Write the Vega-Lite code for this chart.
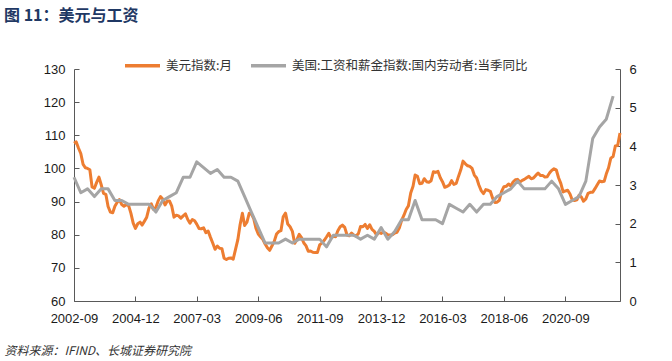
{
  "$schema": "https://vega.github.io/schema/vega-lite/v6.json",
  "width": 546,
  "height": 232,
  "autosize": {"type": "none"},
  "padding": {"left": 74, "top": 69, "right": 52, "bottom": 60},
  "background": "white",
  "config": {"view": {"stroke": null}, "font": "Liberation Sans"},
  "title": {
    "text": "图 11：美元与工资",
    "anchor": "start",
    "frame": "group",
    "dx": -70,
    "offset": 22,
    "font": "Noto Sans CJK SC",
    "fontSize": 16,
    "fontWeight": "bold",
    "color": "#1F3864"
  },
  "datasets": {
    "dxy": [
      {"date": "2002-09-01", "value": 107.6}, {"date": "2002-10-01", "value": 108.0}, {"date": "2002-11-01", "value": 106.1}, {"date": "2002-12-01", "value": 104.5},
      {"date": "2003-01-01", "value": 101.2}, {"date": "2003-02-01", "value": 100.2}, {"date": "2003-03-01", "value": 100.0}, {"date": "2003-04-01", "value": 99.6}, {"date": "2003-05-01", "value": 94.4}, {"date": "2003-06-01", "value": 94.0}, {"date": "2003-07-01", "value": 95.8}, {"date": "2003-08-01", "value": 97.4}, {"date": "2003-09-01", "value": 95.0}, {"date": "2003-10-01", "value": 92.5}, {"date": "2003-11-01", "value": 92.2}, {"date": "2003-12-01", "value": 88.5},
      {"date": "2004-01-01", "value": 86.8}, {"date": "2004-02-01", "value": 86.6}, {"date": "2004-03-01", "value": 88.6}, {"date": "2004-04-01", "value": 89.8}, {"date": "2004-05-01", "value": 90.6}, {"date": "2004-06-01", "value": 89.1}, {"date": "2004-07-01", "value": 88.6}, {"date": "2004-08-01", "value": 89.1}, {"date": "2004-09-01", "value": 88.8}, {"date": "2004-10-01", "value": 86.5}, {"date": "2004-11-01", "value": 83.5}, {"date": "2004-12-01", "value": 81.9},
      {"date": "2005-01-01", "value": 83.3}, {"date": "2005-02-01", "value": 83.8}, {"date": "2005-03-01", "value": 82.9}, {"date": "2005-04-01", "value": 84.1}, {"date": "2005-05-01", "value": 85.3}, {"date": "2005-06-01", "value": 88.1}, {"date": "2005-07-01", "value": 89.3}, {"date": "2005-08-01", "value": 87.6}, {"date": "2005-09-01", "value": 88.3}, {"date": "2005-10-01", "value": 90.2}, {"date": "2005-11-01", "value": 91.5}, {"date": "2005-12-01", "value": 90.8},
      {"date": "2006-01-01", "value": 89.0}, {"date": "2006-02-01", "value": 90.2}, {"date": "2006-03-01", "value": 90.2}, {"date": "2006-04-01", "value": 88.6}, {"date": "2006-05-01", "value": 85.3}, {"date": "2006-06-01", "value": 85.9}, {"date": "2006-07-01", "value": 85.7}, {"date": "2006-08-01", "value": 85.0}, {"date": "2006-09-01", "value": 85.7}, {"date": "2006-10-01", "value": 86.3}, {"date": "2006-11-01", "value": 84.6}, {"date": "2006-12-01", "value": 83.5},
      {"date": "2007-01-01", "value": 84.6}, {"date": "2007-02-01", "value": 84.2}, {"date": "2007-03-01", "value": 83.2}, {"date": "2007-04-01", "value": 81.9}, {"date": "2007-05-01", "value": 81.8}, {"date": "2007-06-01", "value": 82.1}, {"date": "2007-07-01", "value": 80.6}, {"date": "2007-08-01", "value": 81.1}, {"date": "2007-09-01", "value": 79.2}, {"date": "2007-10-01", "value": 77.5}, {"date": "2007-11-01", "value": 75.6}, {"date": "2007-12-01", "value": 76.6},
      {"date": "2008-01-01", "value": 75.9}, {"date": "2008-02-01", "value": 75.8}, {"date": "2008-03-01", "value": 72.9}, {"date": "2008-04-01", "value": 72.5}, {"date": "2008-05-01", "value": 72.9}, {"date": "2008-06-01", "value": 73.0}, {"date": "2008-07-01", "value": 72.6}, {"date": "2008-08-01", "value": 75.6}, {"date": "2008-09-01", "value": 78.5}, {"date": "2008-10-01", "value": 83.0}, {"date": "2008-11-01", "value": 86.5}, {"date": "2008-12-01", "value": 82.8},
      {"date": "2009-01-01", "value": 83.8}, {"date": "2009-02-01", "value": 86.5}, {"date": "2009-03-01", "value": 86.3}, {"date": "2009-04-01", "value": 84.9}, {"date": "2009-05-01", "value": 82.0}, {"date": "2009-06-01", "value": 80.2}, {"date": "2009-07-01", "value": 79.4}, {"date": "2009-08-01", "value": 78.6}, {"date": "2009-09-01", "value": 77.2}, {"date": "2009-10-01", "value": 76.1}, {"date": "2009-11-01", "value": 75.3}, {"date": "2009-12-01", "value": 76.6},
      {"date": "2010-01-01", "value": 78.0}, {"date": "2010-02-01", "value": 80.2}, {"date": "2010-03-01", "value": 80.9}, {"date": "2010-04-01", "value": 81.2}, {"date": "2010-05-01", "value": 85.4}, {"date": "2010-06-01", "value": 86.5}, {"date": "2010-07-01", "value": 83.2}, {"date": "2010-08-01", "value": 82.4}, {"date": "2010-09-01", "value": 81.0}, {"date": "2010-10-01", "value": 77.4}, {"date": "2010-11-01", "value": 78.5}, {"date": "2010-12-01", "value": 80.1},
      {"date": "2011-01-01", "value": 79.1}, {"date": "2011-02-01", "value": 77.5}, {"date": "2011-03-01", "value": 76.7}, {"date": "2011-04-01", "value": 75.0}, {"date": "2011-05-01", "value": 75.1}, {"date": "2011-06-01", "value": 74.7}, {"date": "2011-07-01", "value": 74.6}, {"date": "2011-08-01", "value": 74.6}, {"date": "2011-09-01", "value": 76.9}, {"date": "2011-10-01", "value": 77.5}, {"date": "2011-11-01", "value": 78.3}, {"date": "2011-12-01", "value": 79.3},
      {"date": "2012-01-01", "value": 80.4}, {"date": "2012-02-01", "value": 79.0}, {"date": "2012-03-01", "value": 79.5}, {"date": "2012-04-01", "value": 79.4}, {"date": "2012-05-01", "value": 81.2}, {"date": "2012-06-01", "value": 82.4}, {"date": "2012-07-01", "value": 82.9}, {"date": "2012-08-01", "value": 82.2}, {"date": "2012-09-01", "value": 79.9}, {"date": "2012-10-01", "value": 79.7}, {"date": "2012-11-01", "value": 80.5}, {"date": "2012-12-01", "value": 79.9},
      {"date": "2013-01-01", "value": 79.6}, {"date": "2013-02-01", "value": 80.4}, {"date": "2013-03-01", "value": 82.5}, {"date": "2013-04-01", "value": 82.4}, {"date": "2013-05-01", "value": 83.1}, {"date": "2013-06-01", "value": 81.9}, {"date": "2013-07-01", "value": 83.0}, {"date": "2013-08-01", "value": 81.6}, {"date": "2013-09-01", "value": 81.0}, {"date": "2013-10-01", "value": 79.9}, {"date": "2013-11-01", "value": 80.7}, {"date": "2013-12-01", "value": 80.4},
      {"date": "2014-01-01", "value": 80.8}, {"date": "2014-02-01", "value": 80.4}, {"date": "2014-03-01", "value": 80.0}, {"date": "2014-04-01", "value": 79.9}, {"date": "2014-05-01", "value": 80.0}, {"date": "2014-06-01", "value": 80.5}, {"date": "2014-07-01", "value": 80.7}, {"date": "2014-08-01", "value": 82.0}, {"date": "2014-09-01", "value": 84.3}, {"date": "2014-10-01", "value": 85.8}, {"date": "2014-11-01", "value": 87.6}, {"date": "2014-12-01", "value": 88.7},
      {"date": "2015-01-01", "value": 92.6}, {"date": "2015-02-01", "value": 94.6}, {"date": "2015-03-01", "value": 98.0}, {"date": "2015-04-01", "value": 97.6}, {"date": "2015-05-01", "value": 95.4}, {"date": "2015-06-01", "value": 95.5}, {"date": "2015-07-01", "value": 96.9}, {"date": "2015-08-01", "value": 96.0}, {"date": "2015-09-01", "value": 95.8}, {"date": "2015-10-01", "value": 96.3}, {"date": "2015-11-01", "value": 99.0}, {"date": "2015-12-01", "value": 98.8},
      {"date": "2016-01-01", "value": 99.1}, {"date": "2016-02-01", "value": 97.2}, {"date": "2016-03-01", "value": 96.0}, {"date": "2016-04-01", "value": 94.3}, {"date": "2016-05-01", "value": 94.6}, {"date": "2016-06-01", "value": 95.0}, {"date": "2016-07-01", "value": 96.3}, {"date": "2016-08-01", "value": 95.2}, {"date": "2016-09-01", "value": 95.5}, {"date": "2016-10-01", "value": 97.6}, {"date": "2016-11-01", "value": 99.6}, {"date": "2016-12-01", "value": 102.2},
      {"date": "2017-01-01", "value": 101.4}, {"date": "2017-02-01", "value": 100.8}, {"date": "2017-03-01", "value": 100.6}, {"date": "2017-04-01", "value": 100.0}, {"date": "2017-05-01", "value": 98.0}, {"date": "2017-06-01", "value": 97.1}, {"date": "2017-07-01", "value": 95.0}, {"date": "2017-08-01", "value": 93.3}, {"date": "2017-09-01", "value": 92.4}, {"date": "2017-10-01", "value": 93.6}, {"date": "2017-11-01", "value": 93.4}, {"date": "2017-12-01", "value": 93.1},
      {"date": "2018-01-01", "value": 91.0}, {"date": "2018-02-01", "value": 89.7}, {"date": "2018-03-01", "value": 89.8}, {"date": "2018-04-01", "value": 90.4}, {"date": "2018-05-01", "value": 93.1}, {"date": "2018-06-01", "value": 94.5}, {"date": "2018-07-01", "value": 94.6}, {"date": "2018-08-01", "value": 95.3}, {"date": "2018-09-01", "value": 94.7}, {"date": "2018-10-01", "value": 95.9}, {"date": "2018-11-01", "value": 96.6}, {"date": "2018-12-01", "value": 96.7},
      {"date": "2019-01-01", "value": 95.9}, {"date": "2019-02-01", "value": 96.4}, {"date": "2019-03-01", "value": 96.7}, {"date": "2019-04-01", "value": 97.2}, {"date": "2019-05-01", "value": 97.6}, {"date": "2019-06-01", "value": 96.9}, {"date": "2019-07-01", "value": 97.1}, {"date": "2019-08-01", "value": 97.9}, {"date": "2019-09-01", "value": 98.6}, {"date": "2019-10-01", "value": 97.9}, {"date": "2019-11-01", "value": 97.9}, {"date": "2019-12-01", "value": 97.4},
      {"date": "2020-01-01", "value": 97.5}, {"date": "2020-02-01", "value": 98.6}, {"date": "2020-03-01", "value": 99.4}, {"date": "2020-04-01", "value": 99.9}, {"date": "2020-05-01", "value": 99.6}, {"date": "2020-06-01", "value": 97.2}, {"date": "2020-07-01", "value": 95.5}, {"date": "2020-08-01", "value": 92.9}, {"date": "2020-09-01", "value": 93.2}, {"date": "2020-10-01", "value": 93.4}, {"date": "2020-11-01", "value": 92.3}, {"date": "2020-12-01", "value": 90.5},
      {"date": "2021-01-01", "value": 90.3}, {"date": "2021-02-01", "value": 90.5}, {"date": "2021-03-01", "value": 91.9}, {"date": "2021-04-01", "value": 91.4}, {"date": "2021-05-01", "value": 90.1}, {"date": "2021-06-01", "value": 90.8}, {"date": "2021-07-01", "value": 92.5}, {"date": "2021-08-01", "value": 92.8}, {"date": "2021-09-01", "value": 92.8}, {"date": "2021-10-01", "value": 93.9}, {"date": "2021-11-01", "value": 95.1}, {"date": "2021-12-01", "value": 96.2},
      {"date": "2022-01-01", "value": 96.0}, {"date": "2022-02-01", "value": 96.1}, {"date": "2022-03-01", "value": 98.3}, {"date": "2022-04-01", "value": 100.2}, {"date": "2022-05-01", "value": 103.1}, {"date": "2022-06-01", "value": 103.6}, {"date": "2022-07-01", "value": 106.8}, {"date": "2022-08-01", "value": 106.9}, {"date": "2022-09-01", "value": 110.7}
    ],
    "eci": [
      {"date": "2002-09-01", "value": 3.2}, {"date": "2002-12-01", "value": 2.8},
      {"date": "2003-03-01", "value": 2.9}, {"date": "2003-06-01", "value": 2.7}, {"date": "2003-09-01", "value": 2.9}, {"date": "2003-12-01", "value": 2.9},
      {"date": "2004-03-01", "value": 2.6}, {"date": "2004-06-01", "value": 2.6}, {"date": "2004-09-01", "value": 2.5}, {"date": "2004-12-01", "value": 2.5},
      {"date": "2005-03-01", "value": 2.5}, {"date": "2005-06-01", "value": 2.5}, {"date": "2005-09-01", "value": 2.3}, {"date": "2005-12-01", "value": 2.6},
      {"date": "2006-03-01", "value": 2.7}, {"date": "2006-06-01", "value": 2.8}, {"date": "2006-09-01", "value": 3.2}, {"date": "2006-12-01", "value": 3.2},
      {"date": "2007-03-01", "value": 3.6}, {"date": "2007-06-01", "value": 3.45}, {"date": "2007-09-01", "value": 3.3}, {"date": "2007-12-01", "value": 3.4},
      {"date": "2008-03-01", "value": 3.2}, {"date": "2008-06-01", "value": 3.2}, {"date": "2008-09-01", "value": 3.1}, {"date": "2008-12-01", "value": 2.7},
      {"date": "2009-03-01", "value": 2.3}, {"date": "2009-06-01", "value": 1.9}, {"date": "2009-09-01", "value": 1.5}, {"date": "2009-12-01", "value": 1.5},
      {"date": "2010-03-01", "value": 1.5}, {"date": "2010-06-01", "value": 1.6}, {"date": "2010-09-01", "value": 1.5}, {"date": "2010-12-01", "value": 1.6},
      {"date": "2011-03-01", "value": 1.6}, {"date": "2011-06-01", "value": 1.6}, {"date": "2011-09-01", "value": 1.6}, {"date": "2011-12-01", "value": 1.4},
      {"date": "2012-03-01", "value": 1.7}, {"date": "2012-06-01", "value": 1.7}, {"date": "2012-09-01", "value": 1.7}, {"date": "2012-12-01", "value": 1.7},
      {"date": "2013-03-01", "value": 1.6}, {"date": "2013-06-01", "value": 1.7}, {"date": "2013-09-01", "value": 1.6}, {"date": "2013-12-01", "value": 1.9},
      {"date": "2014-03-01", "value": 1.6}, {"date": "2014-06-01", "value": 1.8}, {"date": "2014-09-01", "value": 2.1}, {"date": "2014-12-01", "value": 2.1},
      {"date": "2015-03-01", "value": 2.6}, {"date": "2015-06-01", "value": 2.1}, {"date": "2015-09-01", "value": 2.1}, {"date": "2015-12-01", "value": 2.1},
      {"date": "2016-03-01", "value": 2.0}, {"date": "2016-06-01", "value": 2.5}, {"date": "2016-09-01", "value": 2.4}, {"date": "2016-12-01", "value": 2.3},
      {"date": "2017-03-01", "value": 2.5}, {"date": "2017-06-01", "value": 2.3}, {"date": "2017-09-01", "value": 2.5}, {"date": "2017-12-01", "value": 2.5},
      {"date": "2018-03-01", "value": 2.7}, {"date": "2018-06-01", "value": 2.8}, {"date": "2018-09-01", "value": 2.9}, {"date": "2018-12-01", "value": 3.1},
      {"date": "2019-03-01", "value": 2.9}, {"date": "2019-06-01", "value": 2.9}, {"date": "2019-09-01", "value": 2.9}, {"date": "2019-12-01", "value": 2.9},
      {"date": "2020-03-01", "value": 3.1}, {"date": "2020-06-01", "value": 2.9}, {"date": "2020-09-01", "value": 2.5}, {"date": "2020-12-01", "value": 2.6},
      {"date": "2021-03-01", "value": 2.7}, {"date": "2021-06-01", "value": 3.1}, {"date": "2021-09-01", "value": 4.2}, {"date": "2021-12-01", "value": 4.5},
      {"date": "2022-03-01", "value": 4.7}, {"date": "2022-06-01", "value": 5.3}
    ]
  },
  "layer": [
    {
      "data": {"name": "dxy"},
      "mark": {"type": "line", "strokeWidth": 3, "strokeJoin": "round"},
      "encoding": {
        "x": {
          "field": "date",
          "type": "temporal",
          "scale": {"type": "utc", "domain": [{"year": 2002, "month": 9, "date": 1, "utc": true}, {"year": 2022, "month": 9, "date": 1, "utc": true}]},
          "axis": {
            "values": [
              {"year": 2002, "month": 9, "date": 1, "utc": true},
              {"year": 2004, "month": 12, "date": 1, "utc": true},
              {"year": 2007, "month": 3, "date": 1, "utc": true},
              {"year": 2009, "month": 6, "date": 1, "utc": true},
              {"year": 2011, "month": 9, "date": 1, "utc": true},
              {"year": 2013, "month": 12, "date": 1, "utc": true},
              {"year": 2016, "month": 3, "date": 1, "utc": true},
              {"year": 2018, "month": 6, "date": 1, "utc": true},
              {"year": 2020, "month": 9, "date": 1, "utc": true}
            ],
            "labelExpr": "utcFormat(datum.value, '%Y-%m')",
            "grid": false,
            "domainColor": "#595959",
            "tickColor": "#595959",
            "tickSize": -5,
            "labelPadding": 16,
            "labelFlush": false,
            "labelAlign": "center",
            "labelFont": "Liberation Sans",
            "labelFontSize": 13,
            "labelColor": "#1a1a1a",
            "labelOverlap": false,
            "title": "资料来源：IFIND、长城证券研究院",
            "titleAnchor": "start",
            "titleAlign": "left",
            "titleX": -70,
            "titleY": 49,
            "titleBaseline": "middle",
            "titleFont": "Noto Sans CJK SC",
            "titleFontSize": 12,
            "titleFontStyle": "italic",
            "titleFontWeight": "normal",
            "titleColor": "#333333"
          }
        },
        "y": {
          "field": "value",
          "type": "quantitative",
          "scale": {"domain": [60, 130], "nice": false, "zero": false},
          "axis": {
            "orient": "left",
            "values": [60, 70, 80, 90, 100, 110, 120, 130],
            "grid": false,
            "domainColor": "#595959",
            "tickColor": "#595959",
            "tickSize": -5,
            "labelPadding": 14,
            "labelFont": "Liberation Sans",
            "labelFontSize": 13,
            "labelColor": "#1a1a1a",
            "title": null
          }
        },
        "color": {
          "datum": "美元指数:月",
          "scale": {"domain": ["美元指数:月", "美国:工资和薪金指数:国内劳动者:当季同比"], "range": ["#ED7D31", "#A5A5A5"]},
          "legend": {
            "orient": "none",
            "legendX": 49,
            "legendY": -23,
            "direction": "horizontal",
            "title": null,
            "symbolType": "stroke",
            "symbolSize": 1225,
            "symbolStrokeWidth": 3.5,
            "labelFont": "Noto Sans CJK SC",
            "labelFontSize": 12.5,
            "labelColor": "#333333",
            "labelOffset": 4,
            "labelLimit": 0,
            "columnPadding": 12
          }
        }
      }
    },
    {
      "data": {"name": "eci"},
      "mark": {"type": "line", "strokeWidth": 3, "strokeJoin": "round"},
      "encoding": {
        "x": {"field": "date", "type": "temporal"},
        "y": {
          "field": "value",
          "type": "quantitative",
          "scale": {"domain": [0, 6], "nice": false},
          "axis": {
            "orient": "right",
            "values": [0, 1, 2, 3, 4, 5, 6],
            "grid": false,
            "domainColor": "#595959",
            "tickColor": "#595959",
            "tickSize": -5,
            "labelPadding": 14,
            "labelFont": "Liberation Sans",
            "labelFontSize": 13,
            "labelColor": "#1a1a1a",
            "title": null
          }
        },
        "color": {"datum": "美国:工资和薪金指数:国内劳动者:当季同比"}
      }
    }
  ],
  "resolve": {"scale": {"y": "independent"}}
}
